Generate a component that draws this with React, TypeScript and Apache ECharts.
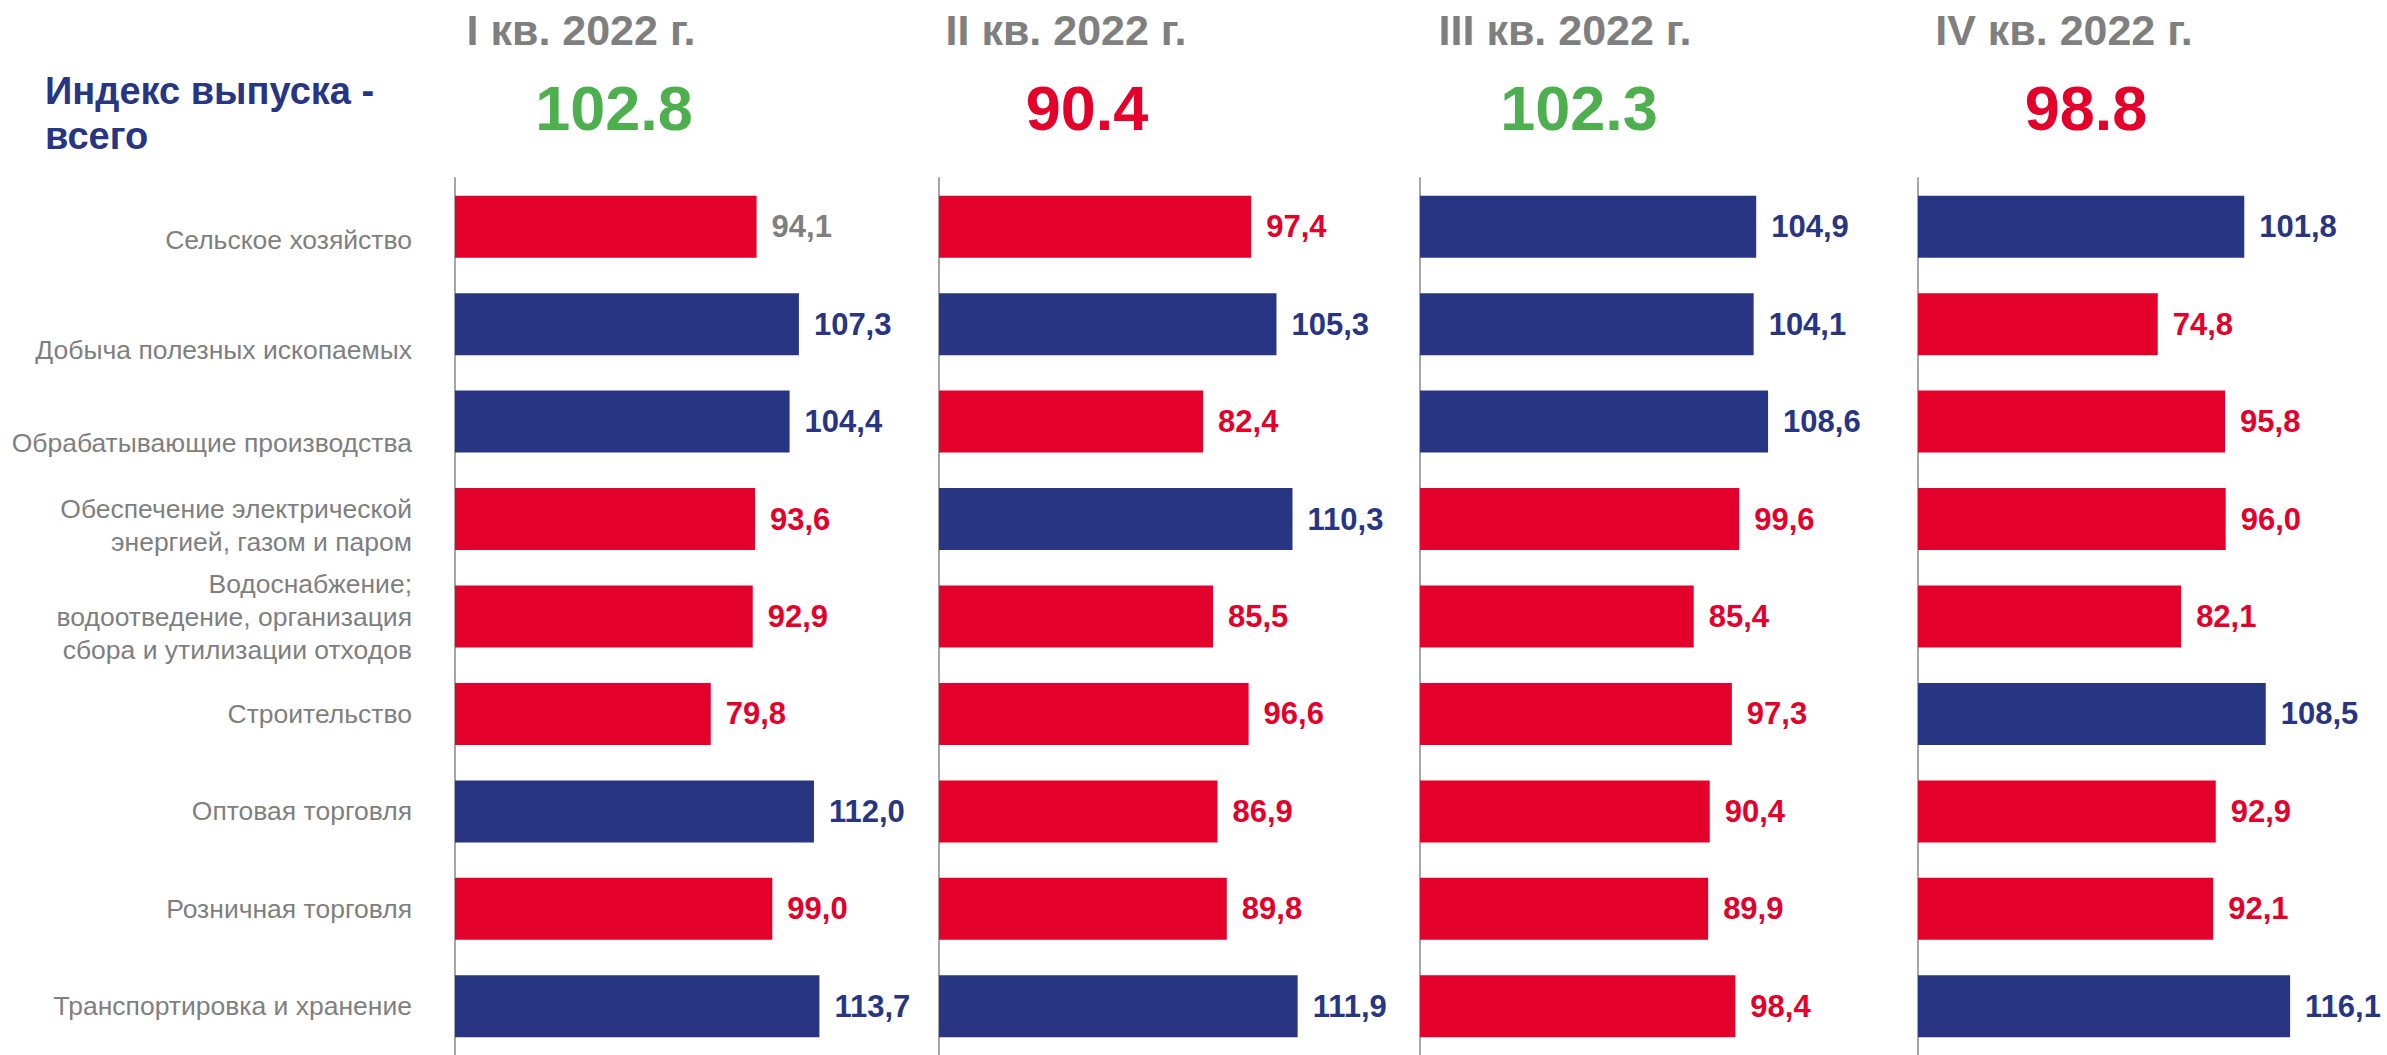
import React, { useEffect, useRef } from 'react';
import * as echarts from 'echarts';

const categories = [
  'Сельское хозяйство',
  'Добыча полезных ископаемых',
  'Обрабатывающие производства',
  'Обеспечение электрической\nэнергией, газом и паром',
  'Водоснабжение;\nводоотведение, организация\nсбора и утилизации отходов',
  'Строительство',
  'Оптовая торговля',
  'Розничная торговля',
  'Транспортировка и хранение',
];
const quarters = ['I кв. 2022 г.', 'II кв. 2022 г.', 'III кв. 2022 г.', 'IV кв. 2022 г.'];
const totals = [102.8, 90.4, 102.3, 98.8];
const q1 = [94.1, 107.3, 104.4, 93.6, 92.9, 79.8, 112.0, 99.0, 113.7];
const q2 = [97.4, 105.3, 82.4, 110.3, 85.5, 96.6, 86.9, 89.8, 111.9];
const q3 = [104.9, 104.1, 108.6, 99.6, 85.4, 97.3, 90.4, 89.9, 98.4];
const q4 = [101.8, 74.8, 95.8, 96.0, 82.1, 108.5, 92.9, 92.1, 116.1];
const quarterValues = [q1, q2, q3, q4];

// layout constants
const FONT = "'Liberation Sans', Arial, Helvetica, sans-serif";
const RED = '#E3002B';
const BLUE = '#283583';
const GREEN = '#4DAF4E';
const GRAY = '#7F7F7F';
const AXIS_GRAY = '#A6A6A6';
const panelLeft = [455, 939, 1420, 1918];
const headerX = [581, 1066, 1565, 2064];
const totalX = [614, 1087, 1579, 2086];
const labelShift = [13, 26, 21, 6, 0, 0, 0, 0, 0];
const X_MAX = 140;
const PX_PER_UNIT = 3.205;

const fmt = (v: number) => v.toFixed(1).replace('.', ',');

export default function App() {
  const ref = useRef<HTMLDivElement>(null);
  useEffect(() => {
    if (!ref.current) return;
    const chart = echarts.init(ref.current, null, { renderer: 'svg' });

    const rich: any = {
      t: { fontSize: 26.5, lineHeight: 33, color: GRAY, fontFamily: FONT, align: 'right' },
    };
    labelShift.forEach((s) => {
      if (s > 0) rich['sp' + s] = { fontSize: 2, lineHeight: 2 * s, align: 'right' };
    });

    const grids = panelLeft.map((left) => ({
      left,
      top: 178,
      width: X_MAX * PX_PER_UNIT,
      height: 882,
      containLabel: false,
    }));
    const xAxes = panelLeft.map((_, i) => ({
      type: 'value',
      gridIndex: i,
      min: 0,
      max: X_MAX,
      show: false,
    }));
    const yAxes = panelLeft.map((_, i) => ({
      type: 'category',
      gridIndex: i,
      data: categories,
      inverse: true,
      axisLine: { show: true, lineStyle: { color: AXIS_GRAY, width: 2 } },
      axisTick: { show: false },
      splitLine: { show: false },
      axisLabel: {
        show: i === 0,
        margin: 43,
        align: 'right',
        formatter: (val: string, idx: number) => {
          const s = labelShift[idx] || 0;
          const lines = val.split('\n').map((l) => `{t|${l}}`).join('\n');
          return s > 0 ? `{sp${s}| }\n${lines}` : lines;
        },
        rich,
      },
    }));
    const series = quarterValues.map((vals, i) => ({
      type: 'bar',
      xAxisIndex: i,
      yAxisIndex: i,
      barWidth: 62,
      data: vals.map((v, j) => ({
        value: v,
        itemStyle: { color: v >= 100 ? BLUE : RED },
        label: { color: i === 0 && j === 0 ? GRAY : v >= 100 ? BLUE : RED },
      })),
      label: {
        show: true,
        position: 'right',
        distance: 15,
        fontSize: 31,
        fontWeight: 'bold',
        fontFamily: FONT,
        formatter: (p: any) => fmt(p.value),
      },
    }));

    const graphic: any[] = [];
    quarters.forEach((q, i) => {
      graphic.push({
        type: 'text',
        x: headerX[i],
        y: 30,
        style: {
          text: q,
          fill: GRAY,
          font: `bold 43px ${FONT}`,
          textAlign: 'center',
          textVerticalAlign: 'middle',
        },
      });
      graphic.push({
        type: 'text',
        x: totalX[i],
        y: 108,
        style: {
          text: totals[i].toFixed(1),
          fill: totals[i] >= 100 ? GREEN : RED,
          font: `bold 63px ${FONT}`,
          textAlign: 'center',
          textVerticalAlign: 'middle',
        },
      });
    });
    graphic.push({
      type: 'text',
      x: 45,
      y: 91,
      style: { text: 'Индекс выпуска -', fill: BLUE, font: `bold 38px ${FONT}`, textAlign: 'left', textVerticalAlign: 'middle' },
    });
    graphic.push({
      type: 'text',
      x: 45,
      y: 136,
      style: { text: 'всего', fill: BLUE, font: `bold 38px ${FONT}`, textAlign: 'left', textVerticalAlign: 'middle' },
    });

    chart.setOption({
      animation: false,
      backgroundColor: '#ffffff',
      textStyle: { fontFamily: FONT },
      grid: grids,
      xAxis: xAxes,
      yAxis: yAxes,
      series,
      graphic,
    });
    return () => chart.dispose();
  }, []);
  return (
    <div
      ref={ref}
      style={{ position: 'absolute', left: 0, top: 0, width: 2387, height: 1055 }}
    />
  );
}
